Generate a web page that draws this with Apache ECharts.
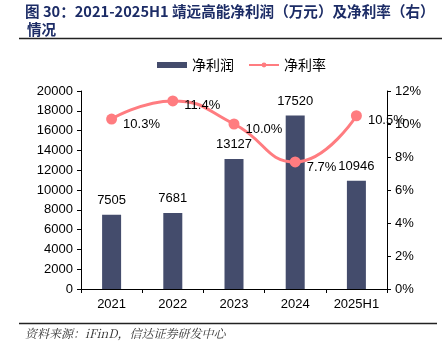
<!DOCTYPE html>
<html>
<head>
<meta charset="utf-8">
<script src="https://cdn.jsdelivr.net/npm/echarts@6/dist/echarts.min.js"></script>
<style>
  html, body { margin: 0; padding: 0; background: #fff; }
  #chart { width: 442px; height: 352px; }
</style>
</head>
<body>
<div id="chart"></div>
<script>
// 数据
const categories = ['2021', '2022', '2023', '2024', '2025H1'];
const netProfit = [7505, 7681, 13127, 17520, 10946];
const netMargin = [0.103, 0.114, 0.100, 0.077, 0.105];

const titleLine1 = '图 30：2021-2025H1 靖远高能净利润（万元）及净利率（右）';
const titleLine2 = '情况';
const sourceText = '资料来源：iFinD，信达证券研发中心';

const myChart = echarts.init(document.getElementById('chart'));

const axisLine = { show: true, lineStyle: { color: '#000', width: 1 } };
const axisLabel = { color: '#000', fontSize: 13, fontFamily: 'Liberation Sans' };

const option = {
    animation: false,
    textStyle: { fontFamily: 'Liberation Sans' },
    graphic: [
        {
            type: 'text', x: 25, y: 4,
            style: {
                text: titleLine1, fill: '#1c2c66',
                align: 'left', verticalAlign: 'top',
                fontSize: 14.6, fontWeight: 'bold', fontFamily: 'Noto Sans CJK SC'
            }
        },
        {
            type: 'text', x: 27, y: 22,
            style: {
                text: titleLine2, fill: '#1c2c66',
                align: 'left', verticalAlign: 'top',
                fontSize: 14.6, fontWeight: 'bold', fontFamily: 'Noto Sans CJK SC'
            }
        },
        {
            type: 'line', shape: { x1: 19, y1: 38.5, x2: 442, y2: 38.5 },
            style: { stroke: '#222', lineWidth: 1.5 }
        },
        {
            type: 'line', shape: { x1: 19, y1: 323.5, x2: 437, y2: 323.5 },
            style: { stroke: '#222', lineWidth: 1.5 }
        },
        {
            type: 'text', x: 25, y: 327,
            style: {
                text: sourceText, fill: '#333',
                align: 'left', verticalAlign: 'top',
                fontSize: 12, fontStyle: 'italic', fontFamily: 'Noto Serif CJK SC, Noto Sans CJK SC'
            }
        }
    ],
    legend: {
        top: 53,
        left: 152,
        itemWidth: 30,
        itemHeight: 6,
        itemGap: 14,
        textStyle: { fontSize: 14, color: '#000', fontFamily: 'Noto Sans CJK SC' },
        data: [
            { name: '净利润', icon: 'rect' },
            { name: '净利率' }
        ]
    },
    grid: { left: 81, right: 55, top: 91, bottom: 63 },
    xAxis: {
        type: 'category',
        data: categories,
        axisLine: axisLine,
        axisTick: { show: true, alignWithLabel: false, length: 4, lineStyle: { color: '#000' } },
        axisLabel: Object.assign({}, axisLabel, { margin: 9 })
    },
    yAxis: [
        {
            type: 'value',
            min: 0, max: 20000, interval: 2000,
            axisLine: axisLine,
            axisTick: { show: true, length: 4, lineStyle: { color: '#000' } },
            axisLabel: Object.assign({}, axisLabel, {
                margin: 8,
                formatter: function (v) { return String(v); }
            }),
            splitLine: { show: false }
        },
        {
            type: 'value',
            min: 0, max: 0.12, interval: 0.02,
            axisLine: axisLine,
            axisTick: { show: true, length: 4, lineStyle: { color: '#000' } },
            axisLabel: Object.assign({}, axisLabel, {
                margin: 8,
                formatter: function (v) { return Math.round(v * 100) + '%'; }
            }),
            splitLine: { show: false }
        }
    ],
    series: [
        {
            name: '净利润',
            type: 'bar',
            data: netProfit,
            barWidth: 19,
            itemStyle: { color: '#444c6c' },
            label: {
                show: true, position: 'top', distance: 8,
                color: '#000', fontSize: 13, fontFamily: 'Liberation Sans'
            }
        },
        {
            name: '净利率',
            type: 'line',
            yAxisIndex: 1,
            data: netMargin,
            smooth: true,
            symbol: 'circle',
            symbolSize: 11,
            lineStyle: { color: '#ff7c80', width: 3 },
            itemStyle: { color: '#ff7c80' },
            label: {
                show: true, position: 'right', distance: 6, offset: [0, 5],
                color: '#000', fontSize: 13, fontFamily: 'Liberation Sans',
                formatter: function (p) { return (p.value * 100).toFixed(1) + '%'; }
            }
        }
    ]
};

myChart.setOption(option);
</script>
</body>
</html>
